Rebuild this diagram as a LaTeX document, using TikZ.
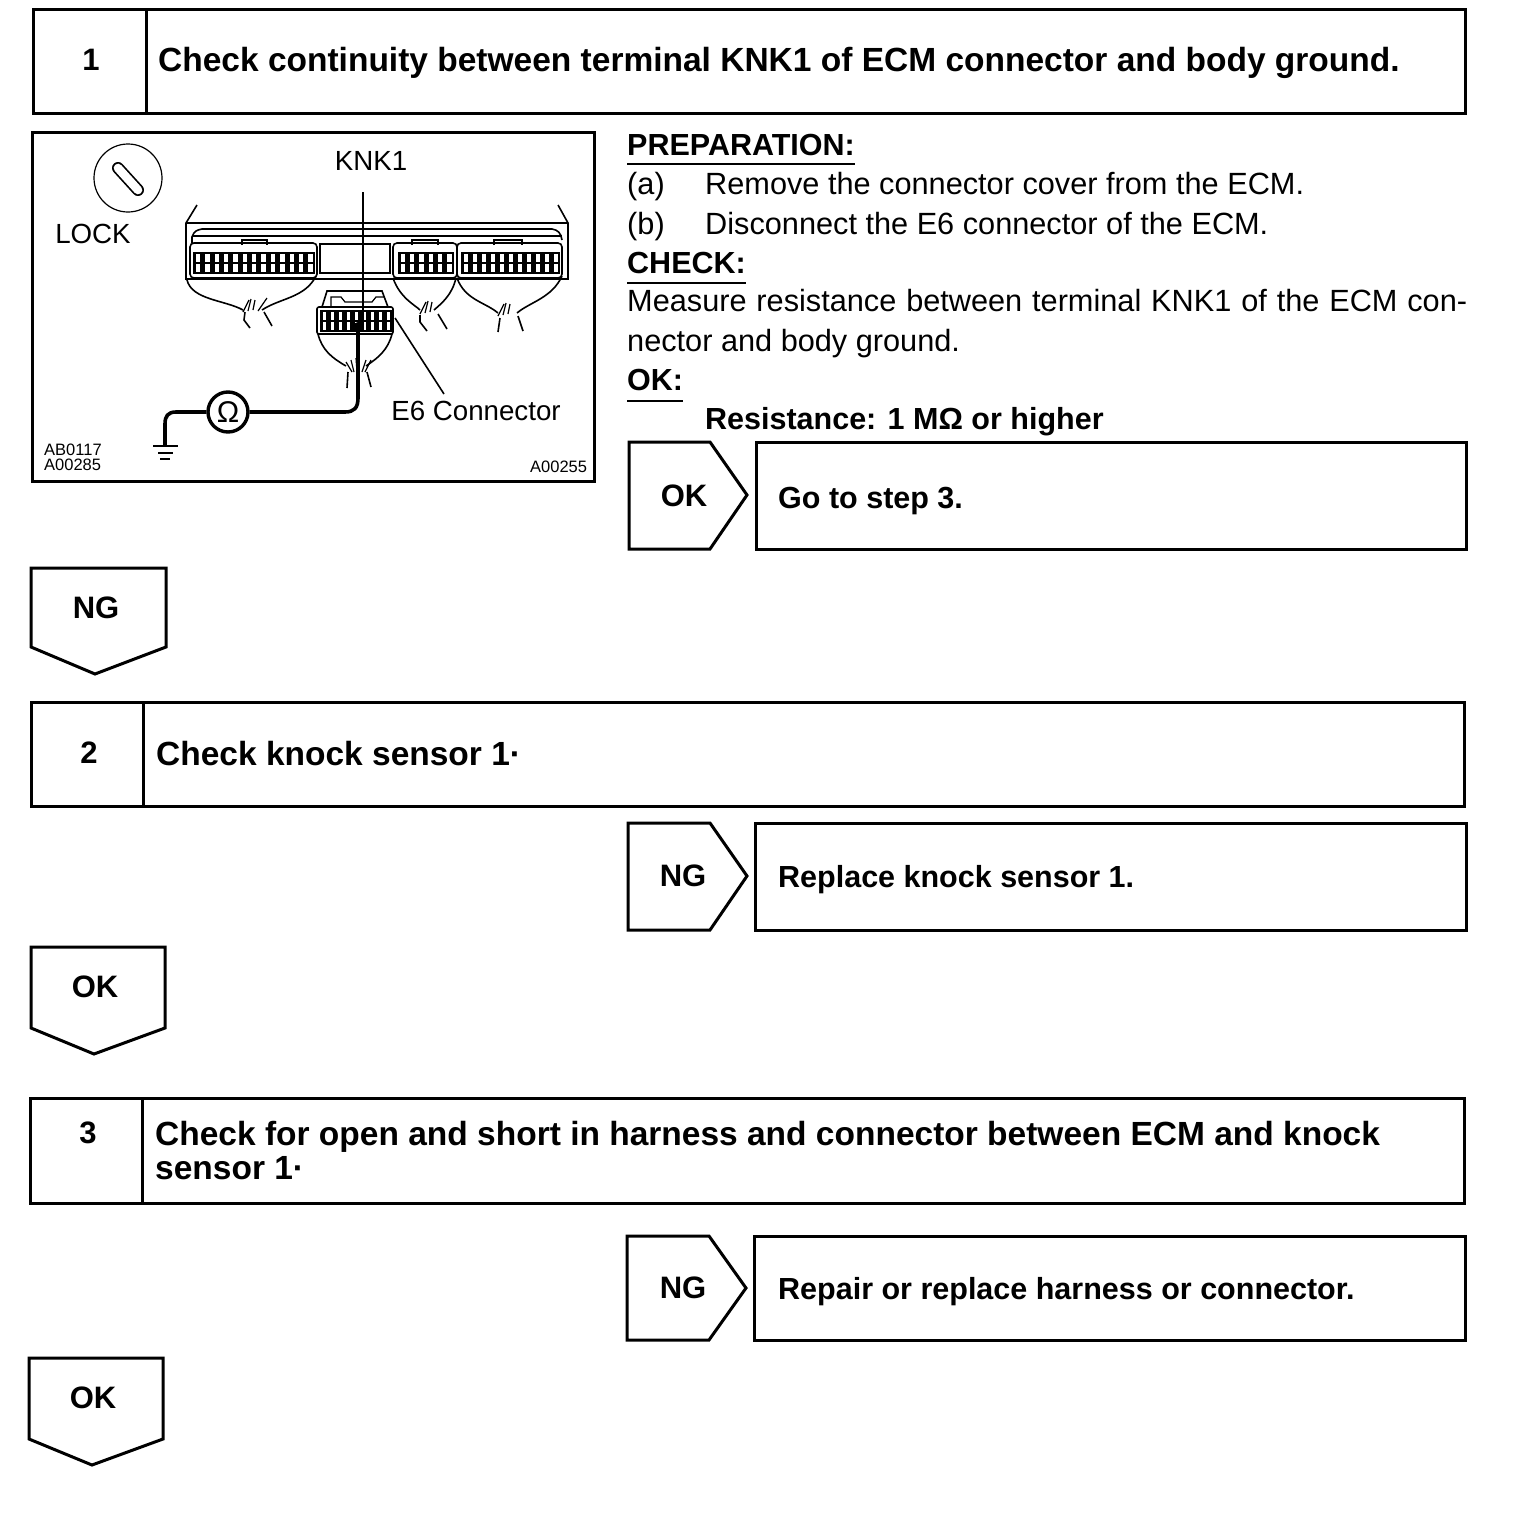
\documentclass[tikz,border=0pt]{standalone}
\usepackage{fontspec}
\setmainfont{Liberation Sans}
\newcommand{\pinblock}[5]{% x0,x1,y0,y1,n: two rows of pins
  \fill[black] (#1,#3) rectangle (#2,#4);
  \pgfmathsetmacro{\pw}{(#2-#1)/#5}
  \pgfmathsetmacro{\rh}{(#4-#3)/2}
  \foreach \pi in {1,...,#5}{
    \pgfmathsetmacro{\xa}{#1+(\pi-1)*\pw+2.8}
    \pgfmathsetmacro{\xb}{#1+\pi*\pw-2.2}
    \pgfmathsetmacro{\yb}{#3+\rh-1.4}
    \pgfmathsetmacro{\yc}{#3+\rh+1.2}
    \fill[white] (\xa,#3+2) rectangle (\xb,\yb);
    \fill[white] (\xa,\yc) rectangle (\xb,#4-2);
  }
}
\tikzset{
  x=1pt,y=-1pt,
  frame/.style={draw=black,line width=3pt,line join=miter,fill=white},
  art/.style={draw=black,line width=1.6pt},
  thinart/.style={draw=black,line width=1.2pt},
  wire/.style={draw=black,line width=3.6pt,line join=round},
  bigt/.style={font=\fontsize{33.5}{33}\bfseries\selectfont,anchor=base west,inner sep=0pt},
  boldt/.style={font=\fontsize{30.5}{33}\bfseries\selectfont,anchor=base west,inner sep=0pt},
  bodyt/.style={font=\fontsize{30.7}{33}\selectfont,anchor=base west,inner sep=0pt},
  figt/.style={font=\fontsize{27.7}{30}\selectfont,anchor=center,inner sep=0pt},
  codet/.style={font=\fontsize{16.5}{16}\selectfont,anchor=base west,inner sep=0pt},
  tag/.style={font=\fontsize{31}{33}\bfseries\selectfont,anchor=center,inner sep=0pt},
}
\begin{document}
\begin{tikzpicture}
\useasboundingbox (0,0) rectangle (1536,1518);
\fill[white] (0,0) rectangle (1536,1518);
% step headers
\draw[frame] (33,9) rectangle (1465,113);
\draw[frame] (146,9) -- (146,113);
\node[tag] (n1) at (91,60) {1};
\node[bigt] (t1) at (158,71) {Check continuity between terminal KNK1 of ECM connector and body ground.};
\draw[frame] (31,702) rectangle (1464,806);
\draw[frame] (143,702) -- (143,806);
\node[tag] (n2) at (89,753) {2};
\node[bigt] (t2) at (156,765) {Check knock sensor 1·};
\draw[frame] (30,1098) rectangle (1464,1203);
\draw[frame] (142,1098) -- (142,1203);
\node[tag] (n3) at (88,1133) {3};
\node[bigt] (t3a) at (155,1145) {Check for open and short in harness and connector between ECM and knock};
\node[bigt] (t3b) at (155,1179) {sensor 1·};
% figure frame
\draw[frame] (32,132) rectangle (594,481);
\draw[thinart] (128,178) circle (34);
\draw[line width=12pt,black,line cap=round] (118,168) -- (138,190);
\draw[line width=8.6pt,white,line cap=round] (118,168) -- (138,190);
\node[figt] (lock) at (93,234) {LOCK};
\node[figt] (knk) at (371,161) {KNK1};
\node[figt] (e6t) at (476,411) {E6 Connector};
\node[codet] (c1) at (44,455) {AB0117};
\node[codet] (c2) at (44,470) {A00285};
\node[codet] (c3) at (530,472) {A00255};
% ECM body
\draw[art] (197,205) -- (186,223) -- (186,279) -- (568,279) -- (568,223) -- (558,205);
\draw[art] (186,223) -- (568,223);
\draw[art] (192,243) -- (192,237) .. controls (194,231) and (197,230) .. (202,229) -- (552,229) .. controls (558,230) and (561,233) .. (562,240);
\draw[thinart] (192,236) -- (562,236);
\draw[art,fill=white] (320,244) rectangle (390,273);
\draw[art,fill=white,rounded corners=4pt] (190,243) rectangle (317,278);
\draw[art,fill=white,rounded corners=4pt] (393,243) rectangle (457,278);
\draw[art,fill=white,rounded corners=4pt] (457,243) rectangle (562,278);
\draw[thinart] (242,245) -- (242,240) -- (267,240) -- (267,245);
\draw[thinart] (412,245) -- (412,240) -- (438,240) -- (438,245);
\draw[thinart] (494,245) -- (494,240) -- (522,240) -- (522,245);
\pinblock{193}{315}{252}{274}{13}
\pinblock{398}{454}{252}{274}{6}
\pinblock{461}{560}{252}{274}{11}
% ECM harnesses
\draw[art] (187,280) .. controls (192,300) and (225,300) .. (243,310);
\draw[art] (316,276) .. controls (305,298) and (280,298) .. (262,310);
\draw[art] (393,278) .. controls (400,298) and (415,305) .. (420,310);
\draw[art] (456,278) .. controls (452,295) and (442,303) .. (434,310);
\draw[art] (457,278) .. controls (465,300) and (485,302) .. (498,313);
\draw[art] (562,276) .. controls (552,298) and (530,302) .. (517,313);
\foreach \x/\y in {243/312,420/314,498/316}{
  \draw[thinart] (\x,\y) -- ++(6,-12) (\x+5,\y-1) -- ++(3,-12) (\x+10,\y-2) -- ++(2,-10);
}
\draw[thinart] (258,311) -- (267,298);
\draw[art] (245,312) -- (244,320) -- (250,328);
\draw[art] (264,312) -- (272,326);
\draw[art] (420,315) -- (420,322) -- (427,331);
\draw[art] (438,314) -- (447,329);
\draw[art] (500,318) -- (498,332);
\draw[art] (518,316) -- (523,331);
% E6 connector
\draw[art,fill=white] (322,307) -- (327,291) -- (382,291) -- (388,307);
\draw[thinart] (331,306) -- (331,297) -- (341,297) -- (345,302) -- (372,302) -- (376,297) -- (384,297);
\draw[art,fill=white,rounded corners=2pt] (317,307) rectangle (393,334);
\pinblock{320}{392}{310}{332}{9}
\draw[art] (318,334) .. controls (322,350) and (332,358) .. (346,366);
\draw[art] (392,334) .. controls (388,350) and (378,358) .. (366,366);
\draw[thinart] (346,362) -- (352,372) (351,360) -- (354,372) (356,358) -- (357,372) (366,360) -- (362,372) (371,360) -- (365,372);
\draw[art] (348,372) -- (347,388);
\draw[art] (367,372) -- (371,387);
\draw[art] (395,318) -- (444,394);
% KNK1 lead
\coordinate (knktop) at (363,192);
\coordinate (knkpin) at (363,330);
\draw[art] (knktop) -- (knkpin);
\fill[black] (358,327) circle (5);
% ohmmeter
\node[draw=black,line width=3.4pt,circle,minimum size=40pt,inner sep=0pt,fill=white,font=\fontsize{30}{30}\selectfont] (ohm) at (228,412) {Ω};
\coordinate (pin) at (358,327);
\coordinate (gnd) at (165,446);
\draw[wire] (ohm.east) -- (345,412) .. controls (354,412) and (358,408) .. (358,398) -- (pin);
\draw[wire] (ohm.west) -- (176,412) .. controls (168,412) and (165,416) .. (165,424) -- (gnd);
\draw[art,line width=2pt] (153,446) -- (178,446);
\draw[art,line width=2pt] (158,453) -- (173,453);
\draw[art,line width=2pt] (160,459) -- (170,459);
% preparation text
\node[boldt] (h1) at (627,155) {PREPARATION:};
\draw[thinart] (627,164) -- (855,164);
\node[bodyt] (a) at (627,194) {(a)};
\node[bodyt] (at) at (705,194) {Remove the connector cover from the ECM.};
\node[bodyt] (b) at (627,234) {(b)};
\node[bodyt] (bt) at (705,234) {Disconnect the E6 connector of the ECM.};
\node[boldt] (h2) at (627,273) {CHECK:};
\draw[thinart] (627,283) -- (746,283);
\node[bodyt] (m1) at (627,311) {\makebox[840pt][s]{Measure resistance between terminal KNK1 of the ECM con-}};
\node[bodyt] (m2) at (627,351) {nector and body ground.};
\node[boldt] (h3) at (627,390) {OK:};
\draw[thinart] (627,401) -- (683,401);
\node[boldt] (r) at (705,429) {Resistance: 1 MΩ or higher};
% result rows
\draw[frame] (629,442) -- (710,442) -- (747,495) -- (710,549) -- (629,549) -- cycle;
\node[tag] (ok1) at (684,496) {OK};
\draw[frame] (756,442) rectangle (1466,549);
\node[boldt] (g1) at (778,508) {Go to step 3.};
\draw[frame] (628,823) -- (710,823) -- (747,876) -- (710,930) -- (628,930) -- cycle;
\node[tag] (ng2) at (683,876) {NG};
\draw[frame] (755,823) rectangle (1466,930);
\node[boldt] (g2) at (778,887) {Replace knock sensor 1.};
\draw[frame] (627,1236) -- (709,1236) -- (746,1288) -- (709,1340) -- (627,1340) -- cycle;
\node[tag] (ng3) at (683,1288) {NG};
\draw[frame] (754,1236) rectangle (1465,1340);
\node[boldt] (g3) at (778,1299) {Repair or replace harness or connector.};
% downward tags
\draw[frame] (31,568) -- (166,568) -- (166,647) -- (95,674) -- (31,647) -- cycle;
\node[tag] (ng1) at (96,608) {NG};
\draw[frame] (31,947) -- (165,947) -- (165,1028) -- (94,1054) -- (31,1028) -- cycle;
\node[tag] (ok2) at (95,987) {OK};
\draw[frame] (29,1358) -- (163,1358) -- (163,1439) -- (92,1465) -- (29,1439) -- cycle;
\node[tag] (ok3) at (93,1398) {OK};
\end{tikzpicture}
\end{document}
